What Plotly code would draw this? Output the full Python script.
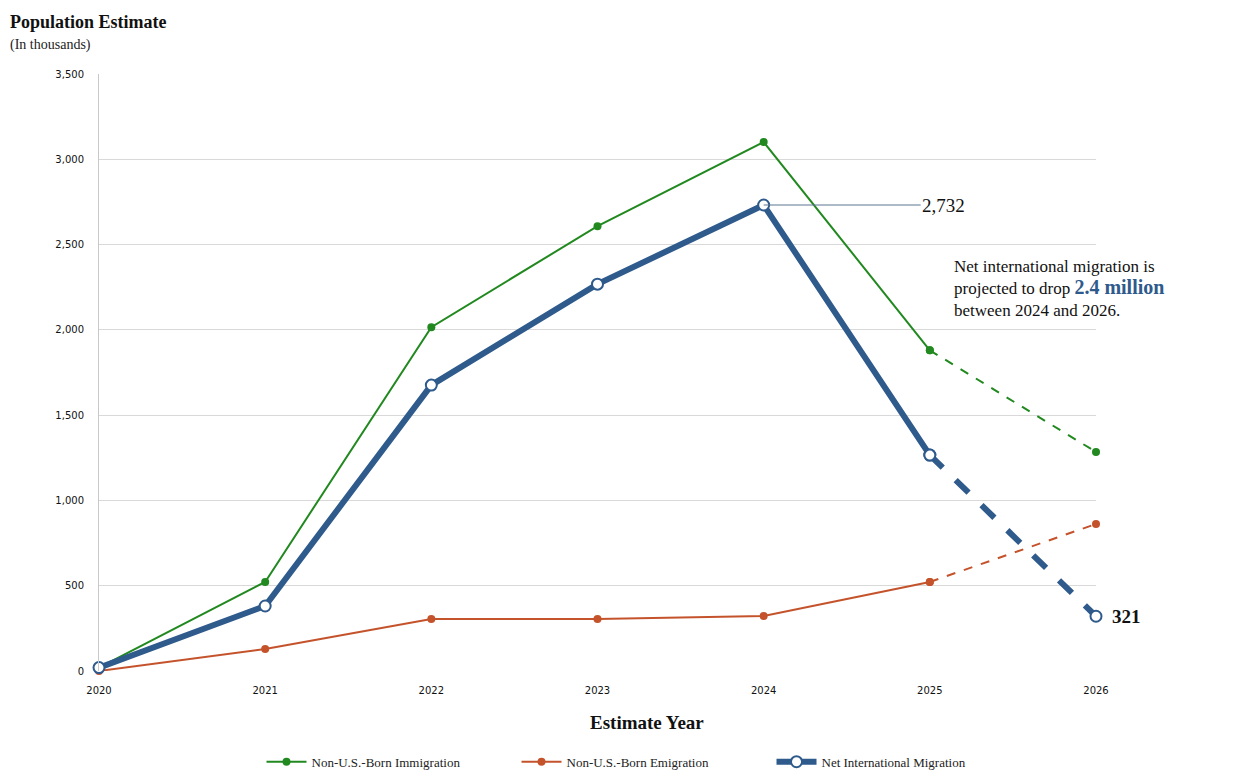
import plotly.graph_objects as go

years = [2020, 2021, 2022, 2023, 2024, 2025, 2026]
immigration = [20, 522, 2016, 2608, 3101, 1880, 1284]
emigration = [0, 129, 305, 305, 322, 522, 862]
net_migration = [20, 381, 1676, 2268, 2732, 1266, 321]
y_ticks = [0, 500, 1000, 1500, 2000, 2500, 3000, 3500]

GREEN = "#21891f"
ORANGE = "#c4532c"
BLUE = "#2e5a8c"
SERIF = "Liberation Serif, Times New Roman, serif"
SANS = "DejaVu Sans, Verdana, sans-serif"

fig = go.Figure()

series = [
    ("Non-U.S.-Born Immigration", immigration, GREEN, 2, dict(size=8, color=GREEN)),
    ("Non-U.S.-Born Emigration", emigration, ORANGE, 2, dict(size=8, color=ORANGE)),
    ("Net International Migration", net_migration, BLUE, 6,
     dict(size=11, color="white", line=dict(color=BLUE, width=2))),
]

for name, vals, color, w, marker in series:
    fig.add_trace(go.Scatter(
        x=years[:6], y=vals[:6], mode="lines+markers", name=name,
        line=dict(color=color, width=w), marker=marker, cliponaxis=False,
    ))
    fig.add_trace(go.Scatter(
        x=years[5:], y=vals[5:], mode="lines+markers", showlegend=False,
        line=dict(color=color, width=w, dash="dash"), marker=marker, cliponaxis=False,
    ))

fig.add_annotation(x=2024, y=net_migration[4], text="2,732", showarrow=True,
                   arrowhead=0, arrowwidth=1, arrowcolor="#5a7590", ax=180, ay=0,
                   font=dict(family=SERIF, size=19, color="#111"), xanchor="center")
fig.add_annotation(x=2026, y=net_migration[6], text="<b>321</b>", showarrow=False,
                   xanchor="left", xshift=14, font=dict(family=SERIF, size=19, color="#111"))
fig.add_annotation(xref="paper", yref="paper", x=0.8556, y=0.64, xanchor="left", yanchor="middle",
                   align="left", showarrow=False,
                   text=("Net international migration is<br>projected to drop "
                         f"<span style='color:{BLUE};font-size:20px'><b>2.4 million</b></span>"
                         "<br>between 2024 and 2026."),
                   font=dict(family=SERIF, size=17, color="#111"))

fig.add_annotation(xref="paper", yref="paper", x=-0.0913, y=1.087, xanchor="left", yanchor="middle",
                   showarrow=False, text="<b>Population Estimate</b>",
                   font=dict(family=SERIF, size=18, color="#111"))
fig.add_annotation(xref="paper", yref="paper", x=-0.0913, y=1.0486, xanchor="left", yanchor="middle",
                   showarrow=False, text="(In thousands)",
                   font=dict(family=SERIF, size=14, color="#222"))
fig.add_annotation(xref="paper", yref="paper", x=0.55, y=-0.087, xanchor="center", yanchor="middle",
                   showarrow=False, text="<b>Estimate Year</b>",
                   font=dict(family=SERIF, size=19, color="#111"))

fig.update_layout(
    width=1235, height=771,
    margin=dict(l=99, r=139, t=74, b=100, autoexpand=False),
    paper_bgcolor="white", plot_bgcolor="white",
    showlegend=True,
    legend=dict(orientation="h", x=0.163, xanchor="left", yref="container", y=0.012,
                yanchor="middle",
                font=dict(family=SERIF, size=13, color="#222"), itemwidth=40,
                entrywidth=200, traceorder="normal"),
    xaxis=dict(range=[2020, 2026], tickvals=years, ticktext=[str(y) for y in years],
               showgrid=False, zeroline=False, showline=False,
               tickfont=dict(family=SANS, size=10, color="#111"), ticks="",
               ticklabelstandoff=12),
    yaxis=dict(range=[0, 3500], tickvals=y_ticks,
               ticktext=[f"{v:,}" for v in y_ticks],
               showgrid=True, gridcolor="#d9d9d9", gridwidth=1, zeroline=False,
               showline=True, linecolor="#c8c8c8", linewidth=1,
               tickfont=dict(family=SANS, size=10, color="#111"), ticks="",
               ticklabelstandoff=12),
)

fig.write_html("out.html")
